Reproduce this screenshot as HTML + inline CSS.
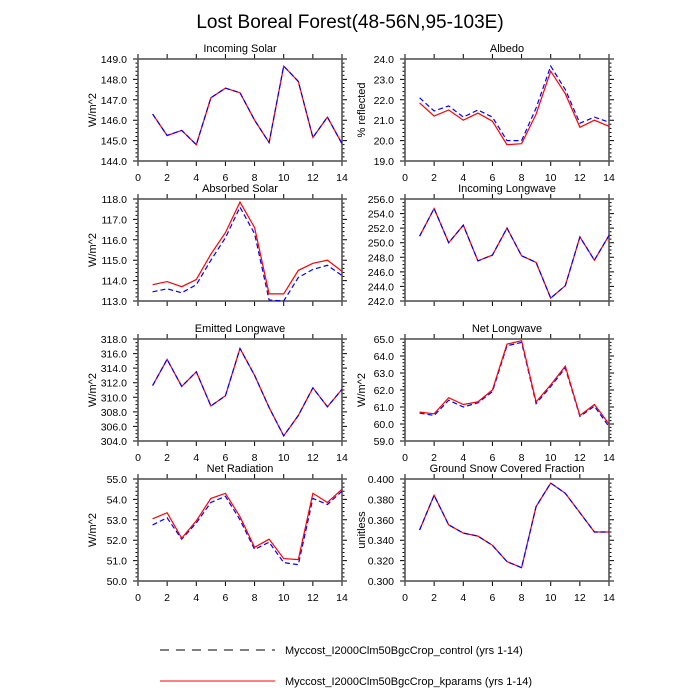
<!DOCTYPE html>
<html><head><meta charset="utf-8"><style>
html,body{margin:0;padding:0;background:#fff;}
svg{display:block;font-family:"Liberation Sans",Arial,sans-serif;}
.yl{font-size:10.5px;text-anchor:end;}
.xl{font-size:10.5px;text-anchor:middle;}
.pt{font-size:11px;text-anchor:middle;}
</style></head><body>
<svg id="s" width="700" height="700" viewBox="0 0 700 700" xmlns="http://www.w3.org/2000/svg">
<rect width="700" height="700" fill="#fff"/>
<text x="350" y="28" font-size="19" text-anchor="middle">Lost Boreal Forest(48-56N,95-103E)</text>

<g id="g"></g>

<text class="pt" x="240" y="52">Incoming Solar</text>
<text class="pt" x="507" y="52">Albedo</text>
<text class="pt" x="240" y="192">Absorbed Solar</text>
<text class="pt" x="507" y="192">Incoming Longwave</text>
<text class="pt" x="240" y="332">Emitted Longwave</text>
<text class="pt" x="507" y="332">Net Longwave</text>
<text class="pt" x="240" y="472">Net Radiation</text>
<text class="pt" x="507" y="472">Ground Snow Covered Fraction</text>

<text font-size="11" text-anchor="middle" transform="translate(96,110) rotate(-90)">W/m^2</text>
<text font-size="11" text-anchor="middle" transform="translate(96,250) rotate(-90)">W/m^2</text>
<text font-size="11" text-anchor="middle" transform="translate(96,390) rotate(-90)">W/m^2</text>
<text font-size="11" text-anchor="middle" transform="translate(96,530) rotate(-90)">W/m^2</text>
<text font-size="11" text-anchor="middle" transform="translate(365,110) rotate(-90)">% reflected</text>
<text font-size="11" text-anchor="middle" transform="translate(365,390) rotate(-90)">W/m^2</text>
<text font-size="11" text-anchor="middle" transform="translate(365,530) rotate(-90)">unitless</text>

<g>
<text class="yl" x="127" y="63">149.0</text><text class="yl" x="127" y="83.4">148.0</text><text class="yl" x="127" y="103.8">147.0</text><text class="yl" x="127" y="124.2">146.0</text><text class="yl" x="127" y="144.6">145.0</text><text class="yl" x="127" y="165">144.0</text>
<text class="yl" x="127" y="203">118.0</text><text class="yl" x="127" y="223.4">117.0</text><text class="yl" x="127" y="243.8">116.0</text><text class="yl" x="127" y="264.2">115.0</text><text class="yl" x="127" y="284.6">114.0</text><text class="yl" x="127" y="305">113.0</text>
<text class="yl" x="127" y="343">318.0</text><text class="yl" x="127" y="357.6">316.0</text><text class="yl" x="127" y="372.1">314.0</text><text class="yl" x="127" y="386.7">312.0</text><text class="yl" x="127" y="401.3">310.0</text><text class="yl" x="127" y="415.9">308.0</text><text class="yl" x="127" y="430.4">306.0</text><text class="yl" x="127" y="445">304.0</text>
<text class="yl" x="127" y="483">55.0</text><text class="yl" x="127" y="503.4">54.0</text><text class="yl" x="127" y="523.8">53.0</text><text class="yl" x="127" y="544.2">52.0</text><text class="yl" x="127" y="564.6">51.0</text><text class="yl" x="127" y="585">50.0</text>
<text class="yl" x="394" y="63">24.0</text><text class="yl" x="394" y="83.4">23.0</text><text class="yl" x="394" y="103.8">22.0</text><text class="yl" x="394" y="124.2">21.0</text><text class="yl" x="394" y="144.6">20.0</text><text class="yl" x="394" y="165">19.0</text>
<text class="yl" x="394" y="203">256.0</text><text class="yl" x="394" y="217.6">254.0</text><text class="yl" x="394" y="232.1">252.0</text><text class="yl" x="394" y="246.7">250.0</text><text class="yl" x="394" y="261.3">248.0</text><text class="yl" x="394" y="275.9">246.0</text><text class="yl" x="394" y="290.4">244.0</text><text class="yl" x="394" y="305">242.0</text>
<text class="yl" x="394" y="343">65.0</text><text class="yl" x="394" y="360">64.0</text><text class="yl" x="394" y="377">63.0</text><text class="yl" x="394" y="394">62.0</text><text class="yl" x="394" y="411">61.0</text><text class="yl" x="394" y="428">60.0</text><text class="yl" x="394" y="445">59.0</text>
<text class="yl" x="394" y="483">0.400</text><text class="yl" x="394" y="503.4">0.380</text><text class="yl" x="394" y="523.8">0.360</text><text class="yl" x="394" y="544.2">0.340</text><text class="yl" x="394" y="564.6">0.320</text><text class="yl" x="394" y="585">0.300</text>
</g>

<g>
<text class="xl" x="138" y="181">0</text><text class="xl" x="167.1" y="181">2</text><text class="xl" x="196.3" y="181">4</text><text class="xl" x="225.4" y="181">6</text><text class="xl" x="254.6" y="181">8</text><text class="xl" x="283.7" y="181">10</text><text class="xl" x="312.9" y="181">12</text><text class="xl" x="342" y="181">14</text>
<text class="xl" x="405" y="181">0</text><text class="xl" x="434.1" y="181">2</text><text class="xl" x="463.3" y="181">4</text><text class="xl" x="492.4" y="181">6</text><text class="xl" x="521.6" y="181">8</text><text class="xl" x="550.7" y="181">10</text><text class="xl" x="579.9" y="181">12</text><text class="xl" x="609" y="181">14</text>
<text class="xl" x="138" y="461">0</text><text class="xl" x="167.1" y="461">2</text><text class="xl" x="196.3" y="461">4</text><text class="xl" x="225.4" y="461">6</text><text class="xl" x="254.6" y="461">8</text><text class="xl" x="283.7" y="461">10</text><text class="xl" x="312.9" y="461">12</text><text class="xl" x="342" y="461">14</text>
<text class="xl" x="405" y="461">0</text><text class="xl" x="434.1" y="461">2</text><text class="xl" x="463.3" y="461">4</text><text class="xl" x="492.4" y="461">6</text><text class="xl" x="521.6" y="461">8</text><text class="xl" x="550.7" y="461">10</text><text class="xl" x="579.9" y="461">12</text><text class="xl" x="609" y="461">14</text>
<text class="xl" x="138" y="601">0</text><text class="xl" x="167.1" y="601">2</text><text class="xl" x="196.3" y="601">4</text><text class="xl" x="225.4" y="601">6</text><text class="xl" x="254.6" y="601">8</text><text class="xl" x="283.7" y="601">10</text><text class="xl" x="312.9" y="601">12</text><text class="xl" x="342" y="601">14</text>
<text class="xl" x="405" y="601">0</text><text class="xl" x="434.1" y="601">2</text><text class="xl" x="463.3" y="601">4</text><text class="xl" x="492.4" y="601">6</text><text class="xl" x="521.6" y="601">8</text><text class="xl" x="550.7" y="601">10</text><text class="xl" x="579.9" y="601">12</text><text class="xl" x="609" y="601">14</text>
</g>

<line x1="160" y1="650" x2="275" y2="650" stroke="#000" stroke-width="1" stroke-dasharray="9,7"/>
<text x="285" y="654" font-size="11">Myccost_I2000Clm50BgcCrop_control (yrs 1-14)</text>
<line x1="160" y1="681" x2="275" y2="681" stroke="#f00" stroke-width="1"/>
<text x="285" y="685" font-size="11">Myccost_I2000Clm50BgcCrop_kparams (yrs 1-14)</text>
</svg>
<script>
(function(){
var NS="http://www.w3.org/2000/svg",g=document.getElementById("g");
function el(n,a){var e=document.createElementNS(NS,n);for(var k in a)e.setAttribute(k,a[k]);g.appendChild(e);return e;}
var W=204,H=102;
var panels=[
 [138,59,5,4,[[114.1,135.5,130.4,144.7,97.8,88.2,92.7,120.2,142.6,66.1,81.4,137.5,117.1,143.7]],null],
 [405,59,5,4,[[102.9,116.1,110,120.2,113.1,121.2,144.7,143.7,114.1,71.2,93.7,127.3,120.2,126.3]],[97.8,111,105.9,117.1,110,117.1,140.6,140.6,108,66.1,89.6,123.2,117.1,122.2]],
 [138,199,5,4,[[284.7,281.6,286.7,279.6,254.1,232.7,202.1,227.6,293.9,293.9,270.4,263.3,260.2,271.4]],[291.8,288.8,292.8,284.7,260.2,237.8,207.2,233.7,300,301,277.5,269.4,265.3,275.5]],
 [405,199,7,3,[[236.2,208.5,242.7,225.2,260.9,255.1,228.1,255.8,262.4,298.1,285.7,236.9,260.2,235.4]],null],
 [138,339,7,3,[[385.6,359.4,386.4,371.8,406,395.8,348.5,375.4,407.5,435.9,415.5,387.8,406.8,389.3]],null],
 [405,339,6,4,[[412.1,413.8,397.7,404.5,401.9,390,344.1,340.7,401.9,384.9,366.2,415.5,404.5,424]],[413,415.5,400.2,407,402.8,391.7,345.8,342.4,403.6,386.6,367.9,416.4,406.2,426.6]],
 [138,479,5,4,[[518.8,512.7,538.2,520.8,498.4,493.3,516.7,547.3,539.2,558.6,559.6,493.3,502.5,489.2]],[524.9,517.8,539.2,522.9,502.5,496.3,519.8,549.4,542.2,562.6,564.7,498.4,504.5,491.2]],
 [405,479,5,4,[[530,495.3,524.9,533.1,536.1,545.3,561.6,567.7,506.5,483.1,493.3,512.7,532,532]],null]
];
panels.forEach(function(p){
 var L=p[0],T=p[1],nmaj=p[2],nmin=p[3];
 var d="";
 for(var i=0;i<=14;i+=2){var x=L+i*W/14;
  d+="M"+x+" "+(T+H)+"v5M"+x+" "+T+"v-5";}
 var n=nmaj*(nmin+1);
 for(var j=0;j<=n;j++){var y=T+j*H/n,len=(j%(nmin+1)==0)?5:2.5;
  d+="M"+L+" "+y+"h-"+len+"M"+(L+W)+" "+y+"h"+len;}
 el("path",{d:d,stroke:"#000","stroke-width":1,fill:"none"});
 el("rect",{x:L,y:T,width:W,height:H,fill:"none",stroke:"#555","stroke-width":1.6});
 var red=p[4][0],same=!p[5],blue=p[5]||red;
 function pts(a){return a.map(function(v,k){return (L+(k+1)*W/14).toFixed(1)+","+v;}).join(" ");}
 if(same){
  el("polyline",{points:pts(red),fill:"none",stroke:"#f00","stroke-width":1.2});
  el("polyline",{points:pts(blue),fill:"none",stroke:"#00f","stroke-width":1.2,"stroke-dasharray":"5,3"});
 } else {
  el("polyline",{points:pts(blue),fill:"none",stroke:"#00f","stroke-width":1.2,"stroke-dasharray":"5,3"});
  el("polyline",{points:pts(red),fill:"none",stroke:"#f00","stroke-width":1.2});
 }
});
})();
</script>
</body></html>
